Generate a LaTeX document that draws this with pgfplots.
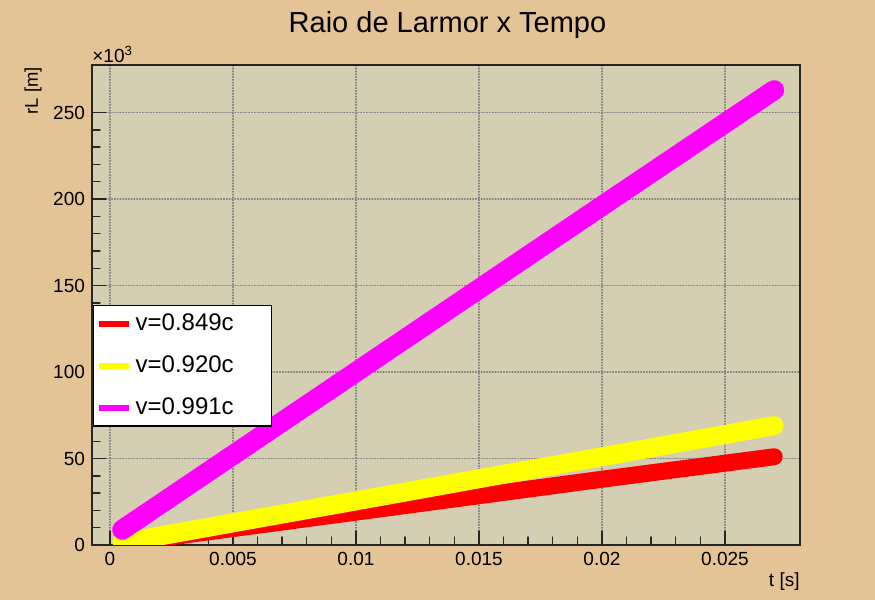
\documentclass[border=0pt]{standalone}
\usepackage{pgfplots}
\pgfplotsset{compat=1.18}
\usepackage{fontspec}
\setmainfont{Liberation Sans}
\definecolor{bgtan}{HTML}{E4C396}
\definecolor{plotbg}{HTML}{D4CEB3}
\definecolor{rred}{HTML}{FF0000}
\definecolor{ryellow}{HTML}{FFFF00}
\definecolor{rmag}{HTML}{FF00FF}
\begin{document}
\begin{tikzpicture}
\fill[bgtan] (0,0) rectangle (437.5pt,300pt);
\begin{axis}[
  at={(46pt,27.5pt)}, anchor=south west,
  scale only axis, width=354pt, height=240pt,
  xmin=-0.00073, xmax=0.02805, ymin=0, ymax=277.5,
  clip mode=individual,
  axis background/.style={fill=plotbg},
  axis line style={black!85, line width=0.8pt},
  xtick={0,0.005,0.01,0.015,0.02,0.025},
  xticklabels={0,0.005,0.01,0.015,0.02,0.025},
  ytick={0,50,100,150,200,250},
  minor x tick num=4, minor y tick num=4,
  tick align=inside, tick pos=left,
  major tick length=7pt, minor tick length=4pt,
  every tick/.style={black!85, line width=0.7pt},
  grid=major,
  major grid style={densely dotted, black!50, line width=0.6pt},
  /pgf/number format/assume math mode=true,
  tick label style={font=\fontsize{9.5}{11}\selectfont},
  scaled x ticks=false, scaled y ticks=false,
  legend style={font=\fontsize{12}{14}\selectfont, draw=black, fill=white,
    at={(rel axis cs:0.0015,0.5)}, anchor=north west,
    row sep=7pt, inner xsep=1pt, inner ysep=2.3pt, line width=0.6pt},
  legend cell align=left,
  legend image code/.code={\draw[line width=3pt] (0pt,0pt) -- (15pt,0pt);},
  line cap=round,
]
\addplot[rred, line width=8.5pt] coordinates {(0.0005,1) (0.005,9.5) (0.01,19) (0.015,28.5) (0.02,38) (0.027,51)};
\addlegendentry{v=0.849c\rule{16pt}{0pt}}
\addplot[ryellow, line width=9.5pt] coordinates {(0.0005,1.3) (0.005,12.8) (0.01,25.5) (0.015,38.3) (0.02,51) (0.027,69)};
\addlegendentry{v=0.920c\rule{16pt}{0pt}}
\addplot[rmag, line width=10pt] coordinates {(0.0005,8.8) (0.005,52) (0.01,100) (0.015,148) (0.02,196) (0.027,263)};
\addlegendentry{v=0.991c\rule{16pt}{0pt}}
\node[anchor=base west, inner sep=0pt, yshift=1pt, font=\fontsize{9.5}{11}\selectfont] at (rel axis cs:0,1) {×10\textsuperscript{3}};
\node[anchor=base east, inner sep=0pt, yshift=-21pt, font=\fontsize{9.5}{11}\selectfont] at (rel axis cs:1,0) {t [s]};
\node[xshift=-25pt, yshift=-1pt, rotate=90, anchor=south east, inner sep=0pt, font=\fontsize{9.2}{11}\selectfont] at (rel axis cs:0,1) {rL [m]};
\end{axis}
\node[font=\fontsize{14.5}{17}\selectfont] at (223.75pt,287.5pt) {Raio de Larmor x Tempo};
\end{tikzpicture}
\end{document}
